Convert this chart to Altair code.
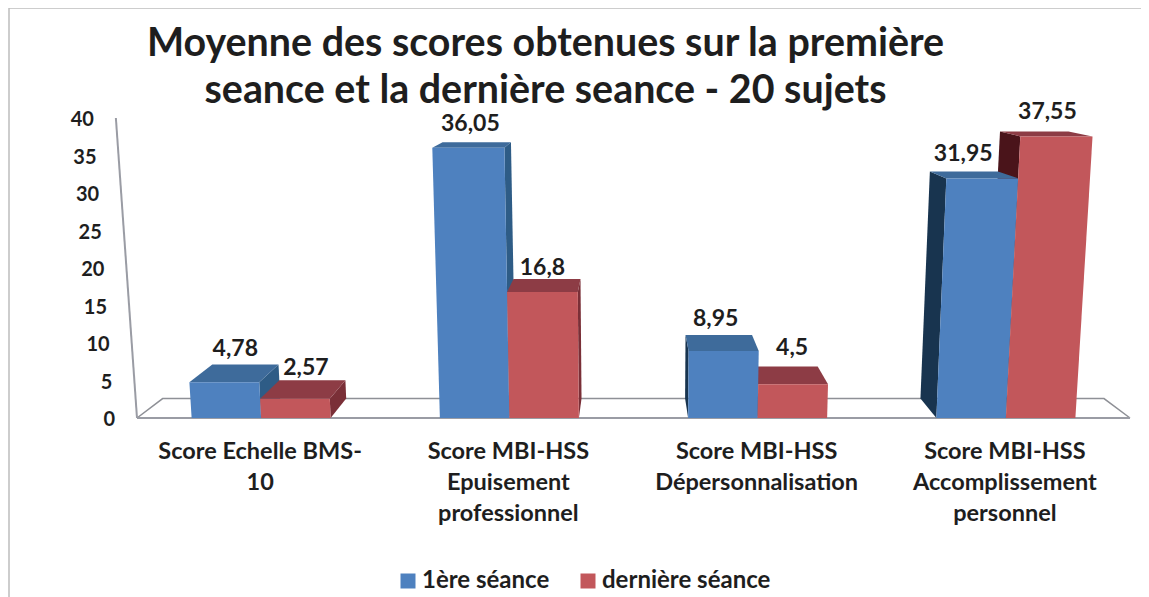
import altair as alt
import pandas as pd

title_lines = ["Moyenne des scores obtenues sur la première",
               "seance et la dernière seance - 20 sujets"]
categories = ["Score Echelle BMS-\n10",
              "Score MBI-HSS\nEpuisement\nprofessionnel",
              "Score MBI-HSS\nDépersonnalisation",
              "Score MBI-HSS\nAccomplissement\npersonnel"]
series = ["1ère séance", "dernière séance"]
first_session = [4.78, 36.05, 8.95, 31.95]
last_session = [2.57, 16.8, 4.5, 37.55]
value_labels_first = ["4,78", "36,05", "8,95", "31,95"]
value_labels_last = ["2,57", "16,8", "4,5", "37,55"]
ticks = [0, 5, 10, 15, 20, 25, 30, 35, 40]

# layout of the false-3D projection (page pixels, as measured)
FLOOR_L, FLOOR_R, BASE_Y, PX_PER_UNIT = 137.0, 1130.0, 418.0, 7.5
LEAN_CX, LEAN = 640.0, 0.00014
VP_X, VP_Y, DEPTH = 630.0, 44.0, 0.052
SLOT = (FLOOR_R - FLOOR_L) / 4
BAR_W = 69.5
PLOT_L, PLOT_W, PLOT_T = 113, 1017, 118


def project(xb, v, d=0.0):
    h = v * PX_PER_UNIT
    X = xb + (xb - LEAN_CX) * LEAN * h
    Y = BASE_Y - h
    X2 = X + d * DEPTH * (VP_X - X)
    Y2 = Y + d * DEPTH * (VP_Y - Y)
    return X2, (BASE_Y - Y2) / PX_PER_UNIT


COL = {
    0: dict(front="#4E81BF", top="#3E6B9B", right="#2E5C86", left="#18344F"),
    1: dict(front="#C2575B", top="#8D3C45", right="#7A2F37", left="#4A141A"),
}

polys, fronts = [], []
pid = 0


def add(rows, corners, **extra):
    global pid
    for i, (xb, v, d) in enumerate(corners):
        x, y = project(xb, v, d)
        rows.append(dict(pid=f"p{pid:03d}", i=i, x=x, y=y, **extra))
    pid += 1


label_rows = []
label_nudge = {(0, 0): (11, 33), (0, 1): (11, 31), (1, 0): (2, 24), (1, 1): (0, 24),
               (2, 0): (-8, 32), (2, 1): (-1, 36), (3, 0): (-19, 24), (3, 1): (-9, 24)}

for c in range(4):
    center = FLOOR_L + SLOT * (c + 0.5)
    order = (0, 1) if c < 3 else (1, 0)
    for s in order:
        v = (first_session if s == 0 else last_session)[c]
        a = center - BAR_W + s * BAR_W
        b = a + BAR_W
        pal = COL[s]
        if a + BAR_W / 2 < VP_X:
            add(polys, [(b, 0, 0), (b, v, 0), (b, v, 1), (b, 0, 1)], fill=pal["right"])
        else:
            add(polys, [(a, 0, 0), (a, v, 0), (a, v, 1), (a, 0, 1)], fill=pal["left"])
        add(polys, [(a, v, 0), (b, v, 0), (b, v, 1), (a, v, 1)], fill=pal["top"])
    for s in (0, 1):
        v = (first_session if s == 0 else last_session)[c]
        a = center - BAR_W + s * BAR_W
        b = a + BAR_W
        add(fronts, [(a, 0, 0), (b, 0, 0), (b, v, 0), (a, v, 0)], series=series[s])
        tx, ty = project((a + b) / 2, v, 0)
        nx, ny = label_nudge[(c, s)]
        label_rows.append(dict(x=tx + nx, y=ty + ny / PX_PER_UNIT,
                               text=(value_labels_first if s == 0 else value_labels_last)[c]))

faces = pd.DataFrame(polys)
front_df = pd.DataFrame(fronts)
labels = pd.DataFrame(label_rows)

x_scale = alt.Scale(domain=[PLOT_L, PLOT_L + PLOT_W], nice=False, zero=False)
y_scale = alt.Scale(domain=[0, 40], nice=False, zero=False)
X = alt.X("x:Q", scale=x_scale, axis=None)
Y = alt.Y("y:Q", scale=y_scale, axis=None)

FONT = "Lato"
INK = "#1E1E1E"

# chart frame
frame_left = alt.Chart(pd.DataFrame({"a": [0]})).mark_rule(color="#BDBDBD", strokeWidth=1.5).encode(
    x=alt.value(9 - PLOT_L), y=alt.value(8 - PLOT_T), y2=alt.value(597 - PLOT_T))
frame_top = alt.Chart(pd.DataFrame({"a": [0]})).mark_rule(color="#BDBDBD", strokeWidth=1.5).encode(
    y=alt.value(8 - PLOT_T), x=alt.value(9 - PLOT_L), x2=alt.value(1149 - PLOT_L))

# floor and wall
fl = []
for name, pts in {
    "wall": [(FLOOR_L, 40, 0), (FLOOR_L, 0, 0)],
    "front": [(FLOOR_L, 0, 0), (FLOOR_R, 0, 0)],
}.items():
    for i, (xb, v, d) in enumerate(pts):
        x, y = project(xb, v, d)
        fl.append(dict(g=name, i=i, x=x, y=y))
thin = []
for i, (xb, v, d) in enumerate([(FLOOR_L, 0, 0), (FLOOR_L, 0, 1), (FLOOR_R, 0, 1), (FLOOR_R, 0, 0)]):
    x, y = project(xb, v, d)
    thin.append(dict(g="back", i=i, x=x, y=y))

floor_back = alt.Chart(pd.DataFrame(thin)).mark_line(color="#8E9096", strokeWidth=1.5).encode(
    x=X, y=Y, detail="g:N", order="i:Q")
floor_front = alt.Chart(pd.DataFrame(fl)).mark_line(color="#9A9CA4", strokeWidth=2).encode(
    x=X, y=Y, detail="g:N", order="i:Q")

face_layer = alt.Chart(faces).mark_line(interpolate="linear-closed", strokeWidth=0).encode(
    x=X, y=Y, detail="pid:N", order="i:Q", fill=alt.Fill("fill:N", scale=None))

front_layer = alt.Chart(front_df).mark_line(interpolate="linear-closed", strokeWidth=0).encode(
    x=X, y=Y, detail="pid:N", order="i:Q",
    fill=alt.Fill("series:N",
                  scale=alt.Scale(domain=series, range=[COL[0]["front"], COL[1]["front"]]),
                  legend=alt.Legend(orient="none", legendX=396 - PLOT_L, legendY=569 - PLOT_T,
                                    direction="horizontal", title=None, symbolType="square",
                                    symbolSize=225, symbolStrokeWidth=0, labelFont=FONT,
                                    labelFontWeight="bold", labelFontSize=24, labelColor=INK,
                                    columnPadding=26, labelOffset=2, labelLimit=300)))

value_text = alt.Chart(labels).mark_text(font=FONT, fontWeight="bold", fontSize=23, color=INK,
                                         align="center", baseline="middle").encode(
    x=X, y=Y, text="text:N")

tick_rows = []
for t in ticks:
    x, y = project(FLOOR_L, t, 0)
    tick_rows.append(dict(x=x - 22, y=t, text=str(t)))
tick_text = alt.Chart(pd.DataFrame(tick_rows)).mark_text(font=FONT, fontWeight="bold", fontSize=20, dy=2,
                                                         color=INK, align="right", baseline="middle").encode(
    x=X, y=Y, text="text:N")

cat_text = alt.Chart(pd.DataFrame({"x": [FLOOR_L + SLOT * (c + 0.5) - 1 for c in range(4)],
                                   "text": categories})).mark_text(
    font=FONT, fontWeight="bold", fontSize=23.5, color=INK, align="center", baseline="top",
    lineBreak="\n", lineHeight=31).encode(
    x=X, y=alt.value(440 - PLOT_T), text="text:N")

chart = alt.layer(frame_left, frame_top, floor_back, floor_front, face_layer, front_layer,
                  value_text, tick_text, cat_text).resolve_scale(fill="independent").properties(
    width=PLOT_W, height=300,
    title=alt.TitleParams(text=title_lines, font=FONT, fontWeight="bold", fontSize=39.4, color=INK,
                          lineHeight=47, anchor="middle", dx=-76, offset=-143, baseline="bottom"),
    padding={"left": PLOT_L - 8, "top": PLOT_T - 8, "right": 1141 - PLOT_L - PLOT_W, "bottom": 179},
    autosize=alt.AutoSizeParams(type="none", contains="content"),
).configure_view(stroke=None)

chart.save("out.html", embed_options={"renderer": "svg", "actions": False})
